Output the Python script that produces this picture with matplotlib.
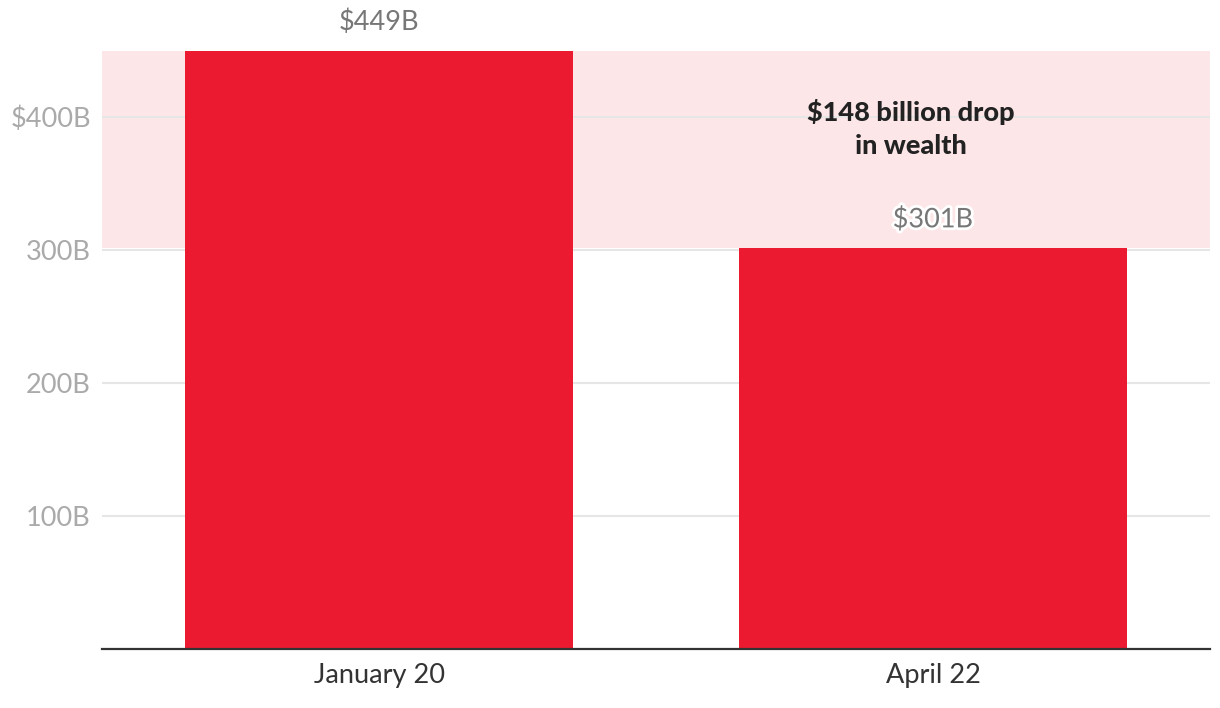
import matplotlib.pyplot as plt
import matplotlib.patheffects as pe

dates = ['January 20', 'April 22']
wealth = [449, 301]
ytick_vals = [100, 200, 300, 400]
ytick_labels = ['100B', '200B', '300B', '$400B']
bar_labels = ['$449B', '$301B']
note = '$148 billion drop\nin wealth'

red = '#ec1a30'
band = '#fde6e8'

plt.rcParams['font.family'] = ['Lato', 'DejaVu Sans']

fig = plt.figure(figsize=(12.2, 7.08), dpi=100)
ax = fig.add_axes([102 / 1220, 1 - 649 / 708, 1108 / 1220, 599 / 708])

x = list(range(len(dates)))

# shaded band showing the drop
ax.axhspan(wealth[1], wealth[0], color=band, zorder=0, lw=0)
for v in ytick_vals:
    ax.axhline(v, color='#e6e6e6', lw=1.5, zorder=1)

ax.bar(x, wealth, width=0.7, color=red, zorder=2)

ax.set_xlim(-0.5, 1.5)
ax.set_ylim(0, 450)

ax.set_yticks(ytick_vals)
ax.set_yticklabels(ytick_labels, color='#aaaaaa', fontsize=19.5)
ax.set_xticks(x)
ax.set_xticklabels(dates, color='#333333', fontsize=19.5)
ax.tick_params(axis='y', length=0, pad=8)
ax.tick_params(axis='x', length=0, pad=10)

for s in ['top', 'right', 'left']:
    ax.spines[s].set_visible(False)
ax.spines['bottom'].set_color('#333333')
ax.spines['bottom'].set_linewidth(1.6)
ax.spines['bottom'].set_zorder(3)

# value labels
ax.text(x[0], wealth[0] + 12, bar_labels[0], ha='center', va='bottom',
        color='#777777', fontsize=19.5, clip_on=False)
ax.text(x[1], wealth[1] + 12, bar_labels[1], ha='center', va='bottom',
        color='#777777', fontsize=19.5, zorder=4,
        path_effects=[pe.withStroke(linewidth=4, foreground='white')])

ax.text(0.96, 391, note, ha='center', va='center', color='#222222',
        fontsize=19.5, fontweight='black', linespacing=1.45, zorder=4)

fig.savefig('out.png', dpi=100)
